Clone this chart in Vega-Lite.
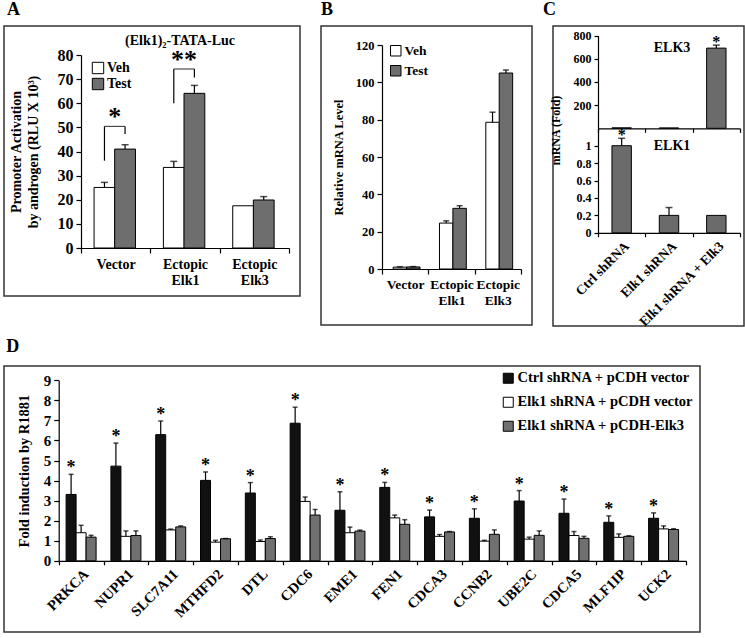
{
  "$schema": "https://vega.github.io/schema/vega-lite/v6.json",
  "padding": {"left": 2, "top": 0, "right": 0, "bottom": 0},
  "background": "white",
  "config": {
    "font": "Liberation Serif",
    "view": {"stroke": "#333333", "strokeWidth": 1.5},
    "axis": {"labelFont": "Liberation Serif", "titleFont": "Liberation Serif", "labelFontWeight": "bold", "titleFontWeight": "bold", "labelColor": "#000", "titleColor": "#000", "domainColor": "#000", "tickColor": "#000", "grid": false, "tickSize": 5, "domainWidth": 1.2, "tickWidth": 1.2, "labelPadding": 3, "labelFlush": false},
    "legend": {"labelFont": "Liberation Serif", "labelFontWeight": "bold", "labelColor": "#000"},
    "title": {"font": "Liberation Serif", "fontSize": 18, "fontWeight": "bold", "anchor": "start", "color": "#000"},
    "text": {"font": "Liberation Serif", "fontWeight": "bold", "color": "#000"}
  },
  "datasets": {
    "a": [
      {"group": "Vector", "series": "Veh", "value": 25.1, "err": 27.2},
      {"group": "Vector", "series": "Test", "value": 41.0, "err": 42.8},
      {"group": "Ectopic Elk1", "series": "Veh", "value": 33.4, "err": 35.9},
      {"group": "Ectopic Elk1", "series": "Test", "value": 64.1, "err": 67.4},
      {"group": "Ectopic Elk3", "series": "Veh", "value": 17.5, "err": 17.5},
      {"group": "Ectopic Elk3", "series": "Test", "value": 19.9, "err": 21.3}
    ],
    "a_br": [
      {"group": "Vector", "low1": 36.2, "top": 50.4, "low2": 47.3, "label": "*"},
      {"group": "Ectopic Elk1", "low1": 60.0, "top": 74.2, "low2": 70.7, "label": "**"}
    ],
    "a_title": [
      {"group": "Ectopic Elk1", "y": 85.9, "label": "(Elk1)₂-TATA-Luc"}
    ],
    "b": [
      {"group": "Vector", "series": "Veh", "value": 1.0, "err": 1.2},
      {"group": "Vector", "series": "Test", "value": 1.1, "err": 1.3},
      {"group": "Ectopic Elk1", "series": "Veh", "value": 24.6, "err": 25.8},
      {"group": "Ectopic Elk1", "series": "Test", "value": 32.5, "err": 33.9},
      {"group": "Ectopic Elk3", "series": "Veh", "value": 78.6, "err": 84.0},
      {"group": "Ectopic Elk3", "series": "Test", "value": 105.0, "err": 106.6}
    ],
    "c_top": [
      {"cond": "Ctrl shRNA", "value": 4, "err": 4},
      {"cond": "Elk1 shRNA", "value": 3, "err": 3},
      {"cond": "Elk1 shRNA + Elk3", "value": 692, "err": 718, "sig": "*"}
    ],
    "c_bot": [
      {"cond": "Ctrl shRNA", "value": 1.0, "err": 1.085, "sig": "*"},
      {"cond": "Elk1 shRNA", "value": 0.2, "err": 0.29},
      {"cond": "Elk1 shRNA + Elk3", "value": 0.2, "err": 0.2}
    ],
    "d": [
      {"gene": "PRKCA", "series": "Ctrl shRNA + pCDH vector", "value": 3.31, "err": 4.31},
      {"gene": "PRKCA", "series": "Elk1 shRNA + pCDH vector", "value": 1.40, "err": 1.77},
      {"gene": "PRKCA", "series": "Elk1 shRNA + pCDH-Elk3", "value": 1.18, "err": 1.27},
      {"gene": "NUPR1", "series": "Ctrl shRNA + pCDH vector", "value": 4.72, "err": 5.87},
      {"gene": "NUPR1", "series": "Elk1 shRNA + pCDH vector", "value": 1.22, "err": 1.49},
      {"gene": "NUPR1", "series": "Elk1 shRNA + pCDH-Elk3", "value": 1.26, "err": 1.49},
      {"gene": "SLC7A11", "series": "Ctrl shRNA + pCDH vector", "value": 6.29, "err": 6.97},
      {"gene": "SLC7A11", "series": "Elk1 shRNA + pCDH vector", "value": 1.54, "err": 1.58},
      {"gene": "SLC7A11", "series": "Elk1 shRNA + pCDH-Elk3", "value": 1.69, "err": 1.74},
      {"gene": "MTHFD2", "series": "Ctrl shRNA + pCDH vector", "value": 4.01, "err": 4.43},
      {"gene": "MTHFD2", "series": "Elk1 shRNA + pCDH vector", "value": 0.93, "err": 1.02},
      {"gene": "MTHFD2", "series": "Elk1 shRNA + pCDH-Elk3", "value": 1.10, "err": 1.11},
      {"gene": "DTL", "series": "Ctrl shRNA + pCDH vector", "value": 3.38, "err": 3.90},
      {"gene": "DTL", "series": "Elk1 shRNA + pCDH vector", "value": 0.96, "err": 1.04},
      {"gene": "DTL", "series": "Elk1 shRNA + pCDH-Elk3", "value": 1.11, "err": 1.20},
      {"gene": "CDC6", "series": "Ctrl shRNA + pCDH vector", "value": 6.86, "err": 7.66},
      {"gene": "CDC6", "series": "Elk1 shRNA + pCDH vector", "value": 2.96, "err": 3.18},
      {"gene": "CDC6", "series": "Elk1 shRNA + pCDH-Elk3", "value": 2.28, "err": 2.56},
      {"gene": "EME1", "series": "Ctrl shRNA + pCDH vector", "value": 2.52, "err": 3.44},
      {"gene": "EME1", "series": "Elk1 shRNA + pCDH vector", "value": 1.40, "err": 1.68},
      {"gene": "EME1", "series": "Elk1 shRNA + pCDH-Elk3", "value": 1.48, "err": 1.53},
      {"gene": "FEN1", "series": "Ctrl shRNA + pCDH vector", "value": 3.66, "err": 3.91},
      {"gene": "FEN1", "series": "Elk1 shRNA + pCDH vector", "value": 2.14, "err": 2.28},
      {"gene": "FEN1", "series": "Elk1 shRNA + pCDH-Elk3", "value": 1.82, "err": 2.05},
      {"gene": "CDCA3", "series": "Ctrl shRNA + pCDH vector", "value": 2.19, "err": 2.53},
      {"gene": "CDCA3", "series": "Elk1 shRNA + pCDH vector", "value": 1.22, "err": 1.31},
      {"gene": "CDCA3", "series": "Elk1 shRNA + pCDH-Elk3", "value": 1.44, "err": 1.46},
      {"gene": "CCNB2", "series": "Ctrl shRNA + pCDH vector", "value": 2.12, "err": 2.59},
      {"gene": "CCNB2", "series": "Elk1 shRNA + pCDH vector", "value": 0.98, "err": 1.02},
      {"gene": "CCNB2", "series": "Elk1 shRNA + pCDH-Elk3", "value": 1.32, "err": 1.54},
      {"gene": "UBE2C", "series": "Ctrl shRNA + pCDH vector", "value": 2.98, "err": 3.50},
      {"gene": "UBE2C", "series": "Elk1 shRNA + pCDH vector", "value": 1.08, "err": 1.18},
      {"gene": "UBE2C", "series": "Elk1 shRNA + pCDH-Elk3", "value": 1.27, "err": 1.49},
      {"gene": "CDCA5", "series": "Ctrl shRNA + pCDH vector", "value": 2.37, "err": 3.08},
      {"gene": "CDCA5", "series": "Elk1 shRNA + pCDH vector", "value": 1.26, "err": 1.46},
      {"gene": "CDCA5", "series": "Elk1 shRNA + pCDH-Elk3", "value": 1.12, "err": 1.22},
      {"gene": "MLF1IP", "series": "Ctrl shRNA + pCDH vector", "value": 1.92, "err": 2.24},
      {"gene": "MLF1IP", "series": "Elk1 shRNA + pCDH vector", "value": 1.17, "err": 1.34},
      {"gene": "MLF1IP", "series": "Elk1 shRNA + pCDH-Elk3", "value": 1.22, "err": 1.25},
      {"gene": "UCK2", "series": "Ctrl shRNA + pCDH vector", "value": 2.12, "err": 2.39},
      {"gene": "UCK2", "series": "Elk1 shRNA + pCDH vector", "value": 1.59, "err": 1.74},
      {"gene": "UCK2", "series": "Elk1 shRNA + pCDH-Elk3", "value": 1.56, "err": 1.60}
    ]
  },
  "resolve": {"scale": {"fill": "independent"}, "legend": {"fill": "independent"}},
  "spacing": 7,
  "vconcat": [
    {
      "spacing": 21,
      "bounds": "flush",
      "resolve": {"scale": {"fill": "independent"}, "legend": {"fill": "independent"}},
      "hconcat": [
        {
          "width": 296, "height": 270,
          "title": {"text": "A", "offset": 7, "dx": 3},
          "data": {"name": "a"},
          "encoding": {
            "x": {"field": "group", "type": "nominal", "sort": ["Vector", "Ectopic Elk1", "Ectopic Elk3"],
              "scale": {"type": "band", "range": [77, 285], "paddingInner": 0, "paddingOuter": 0},
              "axis": {"orient": "bottom", "offset": -48, "tickBand": "extent", "title": null, "labelAngle": 0, "labelExpr": "split(datum.label, ' ')", "labelFontSize": 14, "labelPadding": 4, "labelLineHeight": 16}},
            "y": {"field": "value", "type": "quantitative",
              "scale": {"domain": [0, 80], "range": [222, 29], "nice": false},
              "axis": {"orient": "left", "offset": -77, "values": [0, 10, 20, 30, 40, 50, 60, 70, 80], "title": ["Promoter Activation", "by androgen (RLU X 10³)"], "titleFontSize": 14, "titleLineHeight": 17, "titlePadding": 17, "labelFontSize": 16}}
          },
          "layer": [
            {"transform": [{"filter": "datum.series === 'Veh'"}],
              "mark": {"type": "bar", "stroke": "#000", "strokeWidth": 1, "width": {"band": 0.3}, "xOffset": -11.2},
              "encoding": {"fill": {"field": "series", "type": "nominal", "scale": {"domain": ["Veh", "Test"], "range": ["#ffffff", "#6e6e6e"]},
                "legend": {"orient": "none", "legendX": 87, "legendY": 35, "title": null, "symbolType": "square", "symbolSize": 130, "symbolStrokeColor": "#000", "symbolStrokeWidth": 1, "labelFontSize": 14, "rowPadding": 0, "labelOffset": 2}}}},
            {"transform": [{"filter": "datum.series === 'Test'"}],
              "mark": {"type": "bar", "stroke": "#000", "strokeWidth": 1, "width": {"band": 0.3}, "xOffset": 9.4},
              "encoding": {"fill": {"field": "series", "type": "nominal"}}},
            {"transform": [{"filter": "datum.series === 'Veh' && datum.err > datum.value"}],
              "mark": {"type": "rule", "color": "#000", "strokeWidth": 1.2, "xOffset": -11.2}, "encoding": {"y2": {"field": "err"}}},
            {"transform": [{"filter": "datum.series === 'Test'"}],
              "mark": {"type": "rule", "color": "#000", "strokeWidth": 1.2, "xOffset": 9.4}, "encoding": {"y2": {"field": "err"}}},
            {"transform": [{"filter": "datum.series === 'Veh' && datum.err > datum.value"}],
              "mark": {"type": "tick", "color": "#000", "thickness": 1.5, "size": 7, "xOffset": -11.2}, "encoding": {"y": {"field": "err", "type": "quantitative"}}},
            {"transform": [{"filter": "datum.series === 'Test'"}],
              "mark": {"type": "tick", "color": "#000", "thickness": 1.5, "size": 7, "xOffset": 9.4}, "encoding": {"y": {"field": "err", "type": "quantitative"}}},
            {"data": {"name": "a_br"}, "mark": {"type": "rule", "color": "#000", "strokeWidth": 1.2, "xOffset": -11.2},
              "encoding": {"y": {"field": "low1", "type": "quantitative"}, "y2": {"field": "top"}}},
            {"data": {"name": "a_br"}, "mark": {"type": "rule", "color": "#000", "strokeWidth": 1.2, "xOffset": 9.4},
              "encoding": {"y": {"field": "low2", "type": "quantitative"}, "y2": {"field": "top"}}},
            {"data": {"name": "a_br"}, "mark": {"type": "tick", "color": "#000", "thickness": 1.2, "size": 20.6, "xOffset": -0.9},
              "encoding": {"y": {"field": "top", "type": "quantitative"}}},
            {"data": {"name": "a_br"}, "mark": {"type": "text", "fontSize": 26, "baseline": "alphabetic", "dy": -1, "xOffset": -0.9},
              "encoding": {"y": {"field": "top", "type": "quantitative"}, "text": {"field": "label"}}},
            {"data": {"name": "a_title"}, "mark": {"type": "text", "fontSize": 14, "baseline": "middle", "dx": -5},
              "encoding": {"y": {"field": "y", "type": "quantitative"}, "text": {"field": "label"}}}
          ]
        },
        {
          "width": 211, "height": 299,
          "title": {"text": "B", "offset": 7},
          "data": {"name": "b"},
          "encoding": {
            "x": {"field": "group", "type": "nominal", "sort": ["Vector", "Ectopic Elk1", "Ectopic Elk3"],
              "scale": {"type": "band", "range": [61, 200], "paddingInner": 0, "paddingOuter": 0},
              "axis": {"orient": "bottom", "offset": -56, "tickBand": "extent", "title": null, "labelAngle": 0, "labelExpr": "split(datum.label, ' ')", "labelFontSize": 13.5, "labelPadding": 3, "labelLineHeight": 16}},
            "y": {"field": "value", "type": "quantitative",
              "scale": {"domain": [0, 120], "range": [243, 19], "nice": false},
              "axis": {"orient": "left", "offset": -61, "values": [0, 20, 40, 60, 80, 100, 120], "title": "Relative mRNA Level", "titleFontSize": 12.5, "titlePadding": 10, "labelFontSize": 12.5}}
          },
          "layer": [
            {"transform": [{"filter": "datum.series === 'Veh'"}],
              "mark": {"type": "bar", "stroke": "#000", "strokeWidth": 1, "width": {"band": 0.29}, "xOffset": -5.3},
              "encoding": {"fill": {"field": "series", "type": "nominal", "scale": {"domain": ["Veh", "Test"], "range": ["#ffffff", "#6e6e6e"]},
                "legend": {"orient": "none", "legendX": 68, "legendY": 18, "title": null, "symbolType": "square", "symbolSize": 110, "symbolStrokeColor": "#000", "symbolStrokeWidth": 1, "labelFontSize": 13.5, "rowPadding": 5, "labelOffset": 2}}}},
            {"transform": [{"filter": "datum.series === 'Test'"}],
              "mark": {"type": "bar", "stroke": "#000", "strokeWidth": 1, "width": {"band": 0.29}, "xOffset": 8.1},
              "encoding": {"fill": {"field": "series", "type": "nominal"}}},
            {"transform": [{"filter": "datum.series === 'Veh'"}],
              "mark": {"type": "rule", "color": "#000", "strokeWidth": 1.2, "xOffset": -5.3}, "encoding": {"y2": {"field": "err"}}},
            {"transform": [{"filter": "datum.series === 'Test'"}],
              "mark": {"type": "rule", "color": "#000", "strokeWidth": 1.2, "xOffset": 8.1}, "encoding": {"y2": {"field": "err"}}},
            {"transform": [{"filter": "datum.series === 'Veh'"}],
              "mark": {"type": "tick", "color": "#000", "thickness": 1.5, "size": 6, "xOffset": -5.3}, "encoding": {"y": {"field": "err", "type": "quantitative"}}},
            {"transform": [{"filter": "datum.series === 'Test'"}],
              "mark": {"type": "tick", "color": "#000", "thickness": 1.5, "size": 6, "xOffset": 8.1}, "encoding": {"y": {"field": "err", "type": "quantitative"}}}
          ]
        },
        {
          "width": 191, "height": 300,
          "title": {"text": "C", "offset": 7, "dx": -6},
          "layer": [
            {
              "data": {"name": "c_top"},
              "encoding": {
                "x": {"field": "cond", "type": "nominal", "sort": ["Ctrl shRNA", "Elk1 shRNA", "Elk1 shRNA + Elk3"],
                  "scale": {"type": "band", "range": [45, 187], "paddingInner": 0, "paddingOuter": 0},
                  "axis": {"orient": "bottom", "offset": -197.7, "tickBand": "extent", "labels": false, "title": null, "tickSize": 4}},
                "y": {"field": "value", "type": "quantitative",
                  "scale": {"domain": [0, 800], "range": [102.3, 9.6], "nice": false},
                  "axis": {"orient": "left", "offset": -45, "values": [200, 400, 600, 800], "title": null, "labelFontSize": 12, "tickSize": 4}}
              },
              "layer": [
                {"mark": {"type": "bar", "stroke": "#000", "strokeWidth": 1, "fill": "#6b6b6b", "width": {"band": 0.41}}},
                {"transform": [{"filter": "datum.err > datum.value"}], "mark": {"type": "rule", "color": "#000", "strokeWidth": 1.2}, "encoding": {"y2": {"field": "err"}}},
                {"transform": [{"filter": "datum.err > datum.value"}], "mark": {"type": "tick", "color": "#000", "thickness": 1.5, "size": 7}, "encoding": {"y": {"field": "err", "type": "quantitative"}}},
                {"transform": [{"filter": "datum.sig"}], "mark": {"type": "text", "fontSize": 16, "baseline": "alphabetic", "dy": 2},
                  "encoding": {"y": {"field": "err", "type": "quantitative"}, "text": {"field": "sig"}}},
                {"data": {"values": [{"cond": "Elk1 shRNA", "value": 690, "label": "ELK3"}]}, "mark": {"type": "text", "fontSize": 14, "baseline": "middle", "dx": 3},
                  "encoding": {"text": {"field": "label"}}}
              ]
            },
            {
              "data": {"name": "c_bot"},
              "encoding": {
                "x": {"field": "cond", "type": "nominal", "sort": ["Ctrl shRNA", "Elk1 shRNA", "Elk1 shRNA + Elk3"],
                  "scale": {"type": "band", "range": [45, 187], "paddingInner": 0, "paddingOuter": 0},
                  "axis": {"orient": "bottom", "offset": -93.2, "tickBand": "extent", "title": null, "labelAngle": -45, "labelFontSize": 13.5, "tickSize": 4, "labelPadding": 2}},
                "y": {"field": "value", "type": "quantitative",
                  "scale": {"domain": [0, 1.2], "range": [206.8, 102.3], "nice": false},
                  "axis": {"orient": "left", "offset": -45, "values": [0, 0.2, 0.4, 0.6, 0.8, 1], "format": "~g", "title": "mRNA (Fold)", "titleY": 104, "titlePadding": 14, "titleFontSize": 12, "labelFontSize": 12, "tickSize": 4}}
              },
              "layer": [
                {"mark": {"type": "bar", "stroke": "#000", "strokeWidth": 1, "fill": "#6b6b6b", "width": {"band": 0.41}}},
                {"transform": [{"filter": "datum.err > datum.value"}], "mark": {"type": "rule", "color": "#000", "strokeWidth": 1.2}, "encoding": {"y2": {"field": "err"}}},
                {"transform": [{"filter": "datum.err > datum.value"}], "mark": {"type": "tick", "color": "#000", "thickness": 1.5, "size": 7}, "encoding": {"y": {"field": "err", "type": "quantitative"}}},
                {"transform": [{"filter": "datum.sig"}], "mark": {"type": "text", "fontSize": 16, "baseline": "alphabetic", "dy": 2},
                  "encoding": {"y": {"field": "err", "type": "quantitative"}, "text": {"field": "sig"}}},
                {"data": {"values": [{"cond": "Elk1 shRNA", "value": 1.0, "label": "ELK1"}]}, "mark": {"type": "text", "fontSize": 14, "baseline": "middle", "dx": 3},
                  "encoding": {"text": {"field": "label"}}}
              ]
            }
          ],
          "resolve": {"scale": {"x": "independent", "y": "independent"}, "axis": {"x": "independent", "y": "independent"}}
        }
      ]
    },
    {
      "width": 696, "height": 266,
      "title": {"text": "D", "offset": 10, "dx": 3},
      "data": {"name": "d"},
      "encoding": {
        "x": {"field": "gene", "type": "nominal", "sort": ["PRKCA", "NUPR1", "SLC7A11", "MTHFD2", "DTL", "CDC6", "EME1", "FEN1", "CDCA3", "CCNB2", "UBE2C", "CDCA5", "MLF1IP", "UCK2"],
          "scale": {"type": "band", "range": [54.7, 682], "paddingInner": 0, "paddingOuter": 0},
          "axis": {"orient": "bottom", "offset": -71.2, "tickBand": "extent", "title": null, "labelAngle": -45, "labelFontSize": 14.5, "tickSize": 4, "labelPadding": 2}},
        "y": {"field": "value", "type": "quantitative",
          "scale": {"domain": [0, 9], "range": [194.8, 14.3], "nice": false},
          "axis": {"orient": "left", "offset": -54.7, "values": [0, 1, 2, 3, 4, 5, 6, 7, 8, 9], "title": "Fold induction by R1881", "titleFontSize": 14.5, "titlePadding": 12, "labelFontSize": 15}}
      },
      "layer": [
        {"transform": [{"filter": "datum.series === 'Ctrl shRNA + pCDH vector'"}],
          "mark": {"type": "bar", "stroke": "#000", "strokeWidth": 1, "width": {"band": 0.223}, "xOffset": -10},
          "encoding": {"fill": {"field": "series", "type": "nominal",
            "scale": {"domain": ["Ctrl shRNA + pCDH vector", "Elk1 shRNA + pCDH vector", "Elk1 shRNA + pCDH-Elk3"], "range": ["#111111", "#ffffff", "#707070"]},
            "legend": {"orient": "none", "legendX": 497, "legendY": 5, "title": null, "symbolType": "square", "symbolSize": 100, "symbolStrokeColor": "#000", "symbolStrokeWidth": 1, "labelFontSize": 14.5, "rowPadding": 8, "labelOffset": 2, "labelLimit": 300}}}},
        {"transform": [{"filter": "datum.series === 'Elk1 shRNA + pCDH vector'"}],
          "mark": {"type": "bar", "stroke": "#000", "strokeWidth": 1, "width": {"band": 0.223}, "xOffset": 0},
          "encoding": {"fill": {"field": "series", "type": "nominal"}}},
        {"transform": [{"filter": "datum.series === 'Elk1 shRNA + pCDH-Elk3'"}],
          "mark": {"type": "bar", "stroke": "#000", "strokeWidth": 1, "width": {"band": 0.223}, "xOffset": 10},
          "encoding": {"fill": {"field": "series", "type": "nominal"}}},
        {"transform": [{"filter": "datum.series === 'Ctrl shRNA + pCDH vector'"}],
          "mark": {"type": "rule", "color": "#000", "strokeWidth": 1.2, "xOffset": -10}, "encoding": {"y2": {"field": "err"}}},
        {"transform": [{"filter": "datum.series === 'Elk1 shRNA + pCDH vector'"}],
          "mark": {"type": "rule", "color": "#000", "strokeWidth": 1.2, "xOffset": 0}, "encoding": {"y2": {"field": "err"}}},
        {"transform": [{"filter": "datum.series === 'Elk1 shRNA + pCDH-Elk3'"}],
          "mark": {"type": "rule", "color": "#000", "strokeWidth": 1.2, "xOffset": 10}, "encoding": {"y2": {"field": "err"}}},
        {"transform": [{"filter": "datum.series === 'Ctrl shRNA + pCDH vector'"}],
          "mark": {"type": "tick", "color": "#000", "thickness": 1.5, "size": 5, "xOffset": -10}, "encoding": {"y": {"field": "err", "type": "quantitative"}}},
        {"transform": [{"filter": "datum.series === 'Elk1 shRNA + pCDH vector'"}],
          "mark": {"type": "tick", "color": "#000", "thickness": 1.5, "size": 5, "xOffset": 0}, "encoding": {"y": {"field": "err", "type": "quantitative"}}},
        {"transform": [{"filter": "datum.series === 'Elk1 shRNA + pCDH-Elk3'"}],
          "mark": {"type": "tick", "color": "#000", "thickness": 1.5, "size": 5, "xOffset": 10}, "encoding": {"y": {"field": "err", "type": "quantitative"}}},
        {"transform": [{"filter": "datum.series === 'Ctrl shRNA + pCDH vector'"}],
          "mark": {"type": "text", "fontSize": 18, "baseline": "alphabetic", "dy": -1, "xOffset": -10, "text": "*"},
          "encoding": {"y": {"field": "err", "type": "quantitative"}}}
      ]
    }
  ]
}
